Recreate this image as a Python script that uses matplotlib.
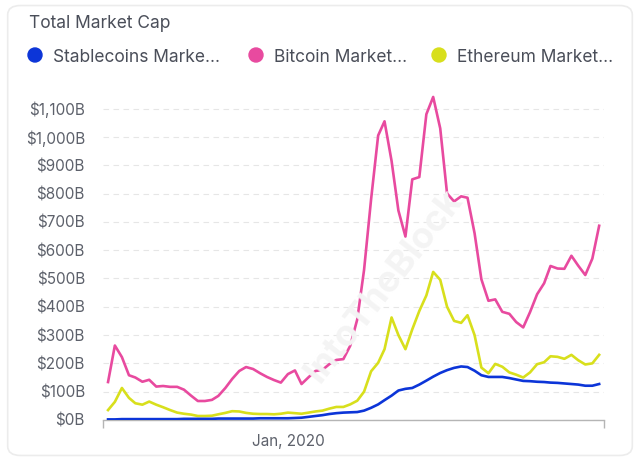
import matplotlib
matplotlib.use('Agg')
import matplotlib.pyplot as plt
from matplotlib.patches import FancyBboxPatch, Ellipse
import pandas as pd

plt.rcParams['font.family'] = ['Inter', 'DejaVu Sans']

# monthly series, $B
dates = pd.date_range('2017-11-01', periods=72, freq='MS')

bitcoin = [134, 263, 222, 158, 150, 135, 142, 118, 120, 117,
           117, 107, 86, 67, 67, 71, 85, 113, 145, 173,
           187, 180, 165, 152, 141, 132, 162, 175, 127, 151,
           173, 177, 197, 212, 215, 262, 355, 530, 780, 1005,
           1055, 915, 740, 648, 850, 858, 1080, 1141, 1030, 800,
           772, 790, 785, 660, 497, 421, 426, 382, 375, 346,
           327, 381, 444, 483, 544, 535, 534, 580, 545, 512,
           570, 686]

ethereum = [35, 64, 113, 78, 59, 54, 65, 54, 45, 35,
            26, 22, 19, 14, 14, 15, 20, 25, 31, 30,
            25, 22, 21, 21, 20, 22, 26, 24, 22, 26,
            30, 33, 40, 46, 46, 55, 68, 100, 172, 202,
            250, 362, 300, 250, 320, 385, 440, 523, 495, 400,
            350, 343, 370, 300, 185, 165, 198, 188, 168, 160,
            150, 168, 197, 204, 225, 223, 216, 230, 211, 196,
            200, 230]

stablecoins = [2, 2, 3, 3, 3, 3, 3, 3, 3, 3,
               3, 4, 4, 4, 4, 4, 5, 5, 5, 5,
               5, 5, 6, 6, 6, 6, 6, 7, 8, 11,
               14, 17, 21, 24, 26, 27, 28, 33, 43, 55,
               70, 86, 104, 110, 113, 125, 139, 153, 166, 176,
               184, 189, 187, 174, 158, 152, 152, 152, 148, 143,
               138, 137, 135, 134, 132, 131, 129, 127, 125, 121,
               121, 127]

series_names = ['Stablecoins Marke...', 'Bitcoin Market...', 'Ethereum Market...']
series_colors = ['#0c35d8', '#e84a9f', '#d8df1c']
yticks = list(range(0, 1200, 100))

fig = plt.figure(figsize=(6.4, 4.61), dpi=100)

# card frame
fig.patches.append(FancyBboxPatch((0.012, 0.012), 0.976, 0.976,
                                  boxstyle='round,pad=0,rounding_size=0.02',
                                  transform=fig.transFigure, facecolor='white',
                                  edgecolor='#ececec', linewidth=1.2, zorder=-1))

ax = fig.add_axes([0.161, 0.089, 0.783, 0.716])
ax.set_facecolor('none')

ax.plot(dates, ethereum, color=series_colors[2], lw=1.9, zorder=3)
ax.plot(dates, bitcoin, color=series_colors[1], lw=1.9, zorder=3)
ax.plot(dates, stablecoins, color=series_colors[0], lw=1.9, zorder=4)

ax.set_ylim(0, 1166)
ax.set_yticks(yticks)
ax.set_yticklabels(['$%sB' % format(v, ',') for v in yticks])
ax.yaxis.grid(True, color='#e6e6e6', linestyle=(0, (5, 4)), linewidth=0.8)
ax.set_axisbelow(True)

x0 = dates[0] - pd.Timedelta(days=22)
x1 = dates[-1] + pd.Timedelta(days=22)
ax.set_xlim(x0, x1)
ax.set_xticks([pd.Timestamp('2020-01-01')])
ax.set_xticklabels(['Jan, 2020'])
ax.set_xticks([x0, x1], minor=True)
ax.tick_params(axis='x', which='major', length=0, pad=10, labelsize=11, colors='#5d616b')
ax.tick_params(axis='x', which='minor', length=6, width=1, color='#b5b5b5')
ax.tick_params(axis='y', length=0, pad=13, labelsize=11, colors='#5d616b')

for s in ['top', 'right', 'left']:
    ax.spines[s].set_visible(False)
ax.spines['bottom'].set_color('#b5b5b5')
ax.spines['bottom'].set_linewidth(1)

# watermark
fig.text(0.6, 0.38, 'IntoTheBlock', rotation=52, fontsize=26, color='#f4f4f4',
         fontweight='bold', ha='center', va='center', zorder=0)

# title and legend
fig.text(29 / 640, 1 - 24 / 461, 'Total Market Cap', fontsize=12.5, color='#4a4e59',
         ha='left', va='center')
dot_x = [35, 256, 439]
text_x = [53, 274, 457]
for name, color, dx, tx in zip(series_names, series_colors, dot_x, text_x):
    fig.patches.append(Ellipse((dx / 640, 1 - 55 / 461), 14 / 640, 14 / 461,
                               color=color, transform=fig.transFigure))
    fig.text(tx / 640, 1 - 57 / 461, name, fontsize=12.5, color='#4a4e59',
             ha='left', va='center')

fig.savefig('out.png', dpi=100)
